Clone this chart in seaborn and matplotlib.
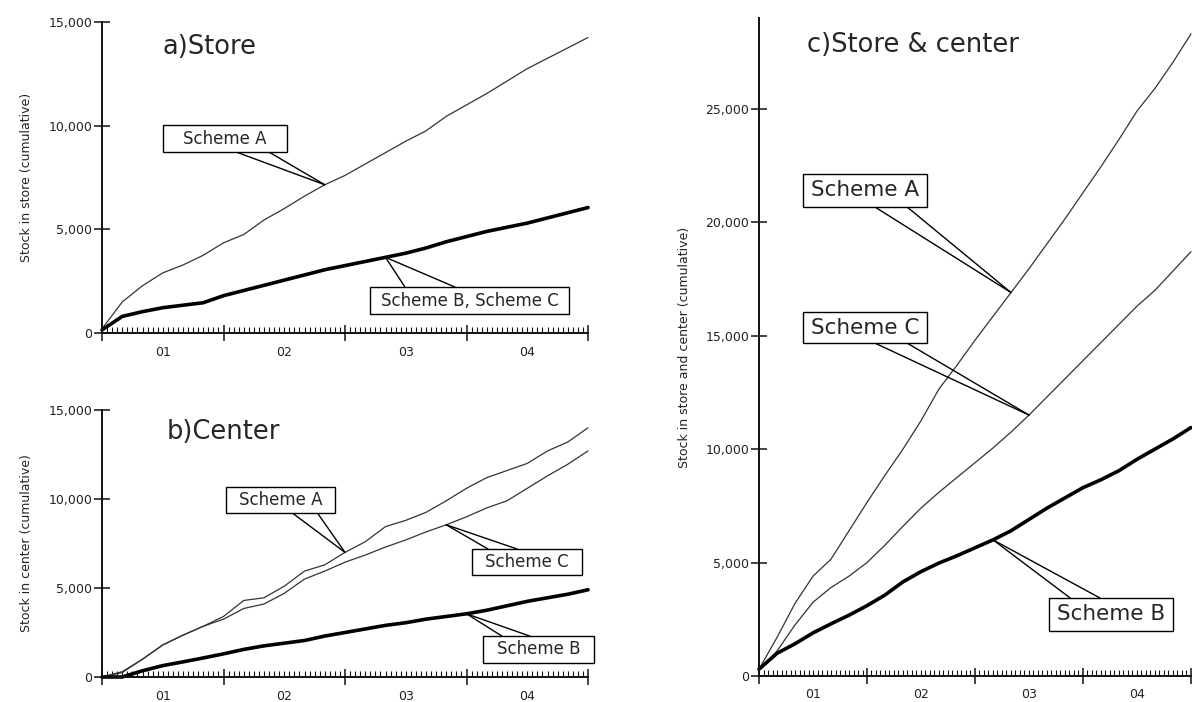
import numpy as np
import pandas as pd
import matplotlib
matplotlib.use("Agg")
import matplotlib.pyplot as plt
import seaborn as sns
from matplotlib.patches import Rectangle, ConnectionPatch
from matplotlib.ticker import MultipleLocator, FuncFormatter

# Months since start of the simulation (one reading every two months, four years)
months = list(range(0, 49, 2))
year_labels = ["01", "02", "03", "04"]

# a) Stock in store (cumulative)
store_scheme_a = [200, 1500, 2280, 2900, 3280, 3750, 4350, 4750, 5450, 6000, 6600, 7150, 7600,
                  8150, 8700, 9250, 9750, 10450, 11000, 11550, 12150, 12750, 13250, 13750, 14250]
store_scheme_bc = [150, 800, 1030, 1220, 1340, 1460, 1800, 2050, 2300, 2550, 2800, 3050, 3250,
                   3450, 3650, 3850, 4100, 4400, 4650, 4900, 5100, 5300, 5550, 5800, 6050]

# b) Stock in center (cumulative)
center_scheme_a = [0, 300, 1000, 1800, 2350, 2850, 3400, 4300, 4450, 5100, 5950, 6300, 7000,
                   7600, 8450, 8800, 9250, 9900, 10600, 11200, 11600, 12000, 12700, 13200, 14000]
center_scheme_c = [0, 250, 1000, 1800, 2350, 2850, 3250, 3850, 4100, 4700, 5500, 5950, 6450,
                   6850, 7300, 7700, 8150, 8550, 9000, 9500, 9900, 10600, 11300, 11950, 12700]
center_scheme_b = [0, 0, 350, 640, 850, 1070, 1300, 1550, 1750, 1900, 2050, 2300, 2500,
                   2700, 2900, 3050, 3250, 3400, 3550, 3750, 4000, 4250, 4450, 4650, 4900]

# c) Stock in store and center (cumulative)
total_scheme_a = [300, 1700, 3200, 4400, 5150, 6400, 7650, 8850, 10000, 11250, 12650, 13700, 14800,
                  15850, 16900, 17950, 19050, 20150, 21300, 22450, 23650, 24900, 25900, 27050, 28300]
total_scheme_c = [250, 1100, 2250, 3250, 3900, 4400, 5000, 5770, 6600, 7400, 8100, 8750, 9400,
                  10050, 10750, 11500, 12300, 13100, 13900, 14700, 15500, 16300, 17000, 17850, 18700]
total_scheme_b = [300, 1000, 1420, 1900, 2300, 2680, 3100, 3570, 4150, 4600, 4980, 5300, 5650,
                  6000, 6400, 6900, 7400, 7850, 8300, 8650, 9050, 9550, 10000, 10450, 10950]

sns.set_style("ticks")
plt.rcParams["font.family"] = ["DejaVu Sans"]

W, H = 1192, 702
fig = plt.figure(figsize=(W / 100, H / 100), dpi=100)


def add_axes_px(left, top, right, bottom):
    return fig.add_axes([left / W, 1 - bottom / H, (right - left) / W, (bottom - top) / H])


ax_a = add_axes_px(102, 22, 588, 333)
ax_b = add_axes_px(102, 410, 588, 677)
ax_c = add_axes_px(759, 18, 1191, 676)

THIN = dict(color="#333333", linewidth=0.9)
THICK = dict(color="black", linewidth=2.6)


def draw_series(ax, values, style):
    df = pd.DataFrame({"month": months, "stock": values})
    sns.lineplot(data=df, x="month", y="stock", ax=ax, clip_on=False, **style)


def style_axes(ax, ymax, ylabel, label_x):
    ax.set_xlim(0, 48)
    ax.set_ylim(0, ymax)
    sns.despine(ax=ax)
    for side in ("left", "bottom"):
        ax.spines[side].set_linewidth(1.4)
        ax.spines[side].set_color("#111111")
    ax.xaxis.set_major_locator(MultipleLocator(12))
    ax.xaxis.set_minor_locator(MultipleLocator(0.5))
    ax.tick_params(axis="x", which="major", direction="inout", length=12, width=1.1,
                   color="#111111", labelbottom=False)
    ax.tick_params(axis="x", which="minor", direction="in", length=4, width=0.8, color="#111111")
    ax.yaxis.set_major_locator(MultipleLocator(5000))
    ax.yaxis.set_major_formatter(FuncFormatter(lambda v, p: f"{int(v):,}"))
    ax.tick_params(axis="y", which="major", direction="inout", length=12, width=1.1,
                   color="#111111", labelsize=9, pad=1, labelcolor="#222222")
    sec = ax.secondary_xaxis("bottom")
    sec.set_xticks([6, 18, 30, 42], year_labels)
    sec.tick_params(length=0, pad=9, labelsize=9, labelcolor="#222222")
    sec.spines["bottom"].set_visible(False)
    ax.set_xlabel("")
    ax.set_ylabel(ylabel, fontsize=9, color="#222222")
    ax.yaxis.label.set_va("center")
    ax.yaxis.set_label_coords(label_x, 0.5)


def callout(ax, label, center, size_px, target, base, side, fontsize):
    bb = ax.get_position()
    aw, ah = bb.width * W, bb.height * H
    w, h = size_px[0] / aw, size_px[1] / ah
    x0, y0 = center[0] - w / 2, center[1] - h / 2
    ax.add_patch(Rectangle((x0, y0), w, h, transform=ax.transAxes, facecolor="white",
                           edgecolor="black", linewidth=1.0, zorder=5, clip_on=False))
    ax.text(center[0], center[1], label, transform=ax.transAxes, ha="center",
            va="center", fontsize=fontsize, zorder=6)
    edge_y = y0 if side == "bottom" else y0 + h
    for f in base:
        ax.add_artist(ConnectionPatch(xyA=(x0 + f * w, edge_y), coordsA=ax.transAxes,
                                      xyB=target, coordsB=ax.transData,
                                      color="black", linewidth=1.0, zorder=4))


# a) Store
draw_series(ax_a, store_scheme_a, THIN)
draw_series(ax_a, store_scheme_bc, THICK)
style_axes(ax_a, 15000, "Stock in store (cumulative)", -0.156)
ax_a.text(0.125, 0.92, "a)Store", transform=ax_a.transAxes, fontsize=18.5, va="center")
callout(ax_a, "Scheme A", (0.253, 0.624), (124, 27), (months[11], store_scheme_a[11]),
        (0.6, 0.86), "bottom", 12)
callout(ax_a, "Scheme B, Scheme C", (0.756, 0.1045), (199, 27), (months[14], store_scheme_bc[14]),
        (0.176, 0.427), "top", 12)

# b) Center
draw_series(ax_b, center_scheme_a, THIN)
draw_series(ax_b, center_scheme_c, THIN)
draw_series(ax_b, center_scheme_b, THICK)
style_axes(ax_b, 15000, "Stock in center (cumulative)", -0.156)
ax_b.text(0.134, 0.918, "b)Center", transform=ax_b.transAxes, fontsize=18.5, va="center")
callout(ax_b, "Scheme A", (0.367, 0.663), (109, 26), (months[12], center_scheme_a[12]),
        (0.61, 0.84), "bottom", 12)
callout(ax_b, "Scheme C", (0.8745, 0.4307), (110, 26), (months[17], center_scheme_c[17]),
        (0.145, 0.41), "top", 12)
callout(ax_b, "Scheme B", (0.898, 0.103), (111, 27), (months[18], center_scheme_b[18]),
        (0.17, 0.42), "top", 12)

# c) Store & center
draw_series(ax_c, total_scheme_a, THIN)
draw_series(ax_c, total_scheme_c, THIN)
draw_series(ax_c, total_scheme_b, THICK)
style_axes(ax_c, 29000, "Stock in store and center (cumulative)", -0.172)
ax_c.text(0.111, 0.959, "c)Store & center", transform=ax_c.transAxes, fontsize=18.5, va="center")
callout(ax_c, "Scheme A", (0.245, 0.738), (124, 33), (months[14], total_scheme_a[14]),
        (0.58, 0.84), "bottom", 15.5)
callout(ax_c, "Scheme C", (0.245, 0.5296), (124, 31), (months[15], total_scheme_c[15]),
        (0.58, 0.84), "bottom", 15.5)
callout(ax_c, "Scheme B", (0.815, 0.0935), (124, 33), (months[13], total_scheme_b[13]),
        (0.17, 0.41), "top", 15.5)

fig.savefig("out.png", dpi=100)
